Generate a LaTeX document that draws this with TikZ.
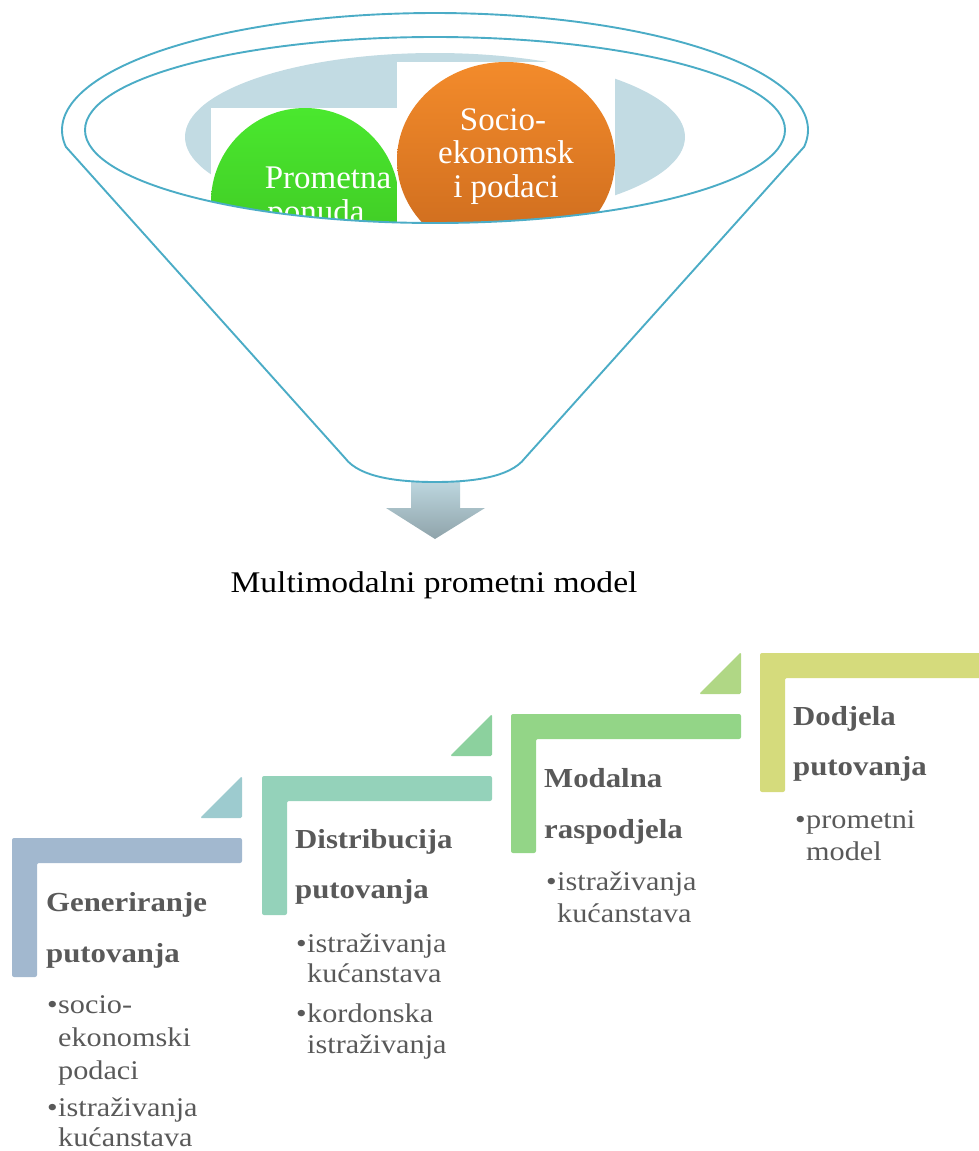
\documentclass[tikz,border=0pt]{standalone}
\usepackage{fontspec}
\setmainfont{Liberation Serif}[FakeStretch=1.12]
\newfontfamily\circfont{Liberation Serif}
\definecolor{funnelc}{HTML}{4BACC6}
\definecolor{grayell}{HTML}{C2DBE3}
\definecolor{greentop}{HTML}{4AE82E}
\definecolor{greenbot}{HTML}{3DBF22}
\definecolor{orangetop}{HTML}{F38B2B}
\definecolor{orangebot}{HTML}{CB6A1D}
\definecolor{arrtop}{HTML}{BDD7DF}
\definecolor{arrbot}{HTML}{8FA3AA}
\definecolor{txt}{HTML}{595959}
\definecolor{barA}{HTML}{A2B8CF}
\definecolor{triA}{HTML}{9DCBCF}
\definecolor{barB}{HTML}{94D2BA}
\definecolor{triB}{HTML}{8CD19E}
\definecolor{barC}{HTML}{93D587}
\definecolor{triC}{HTML}{B0D785}
\definecolor{barD}{HTML}{D5DB7C}
\tikzset{
  funnelline/.style={draw=funnelc, line width=1.9pt},
  circtxt/.style={text=white, inner sep=0pt, anchor=base, font=\circfont\fontsize{33}{33}\selectfont},
  headtxt/.style={text=txt, inner sep=0pt, anchor=base west, font=\fontsize{27.5}{27.5}\selectfont\bfseries},
  itemtxt/.style={text=txt, inner sep=0pt, anchor=base west, font=\fontsize{27}{27}\selectfont},
  lshape/.style={rounded corners=2pt},
}
\newcommand{\stepL}[2]{%
  \fill[lshape, fill=#1] (0,0) -- (230,0) -- (230,25) -- (25,25) -- (25,139) -- (0,139) -- cycle;
  \ifx\relax#2\relax\else
  \fill[rounded corners=1.5pt, fill=#2] (188,-20) -- (230,-62) -- (230,-20) -- cycle;
  \fi
}
\begin{document}
\begin{tikzpicture}[x=1pt,y=-1pt]
\useasboundingbox (0,0) rectangle (979,1151);
% arrow
\path[top color=arrtop, bottom color=arrbot] (411,481) -- (460,481) -- (460,508) -- (485,508) -- (435,539) -- (386,508) -- (411,508) -- cycle;
% contents of the funnel mouth
\begin{scope}
  \clip (435,130) ellipse [x radius=350pt, y radius=93pt];
  \fill[grayell] (435,137) ellipse [x radius=250pt, y radius=84pt];
  \fill[white] (211,108) rectangle (398,300);
  \path[top color=greentop, bottom color=greenbot] (305,202) ellipse [x radius=94pt, y radius=94pt];
  \node[circtxt] (p1) at (328,188) {Prometna};
  \node[circtxt] (p2) at (316,222) {ponuda};
  \fill[white] (397,62) rectangle (615,300);
  \path[top color=orangetop, bottom color=orangebot] (506,160) ellipse [x radius=109pt, y radius=98pt];
  \node[circtxt] (s1) at (503,130) {Socio-};
  \node[circtxt] (s2) at (506,163) {ekonomsk};
  \node[circtxt] (s3) at (506,197) {i podaci};
\end{scope}
\draw[funnelline] (435,130) ellipse [x radius=350pt, y radius=93pt];
\draw[funnelline, line join=round] plot[domain=171.7:368.3, samples=150] ({435+373*cos(\x)},{130+117*sin(\x)})
  -- (525,458) .. controls (510,478) and (470,482) .. (435,482)
  .. controls (400,482) and (360,478) .. (345,458) -- cycle;
% title
\node[text=black, inner sep=0pt, anchor=base, font=\fontsize{30}{30}\selectfont] (mm) at (434,592) {Multimodalni prometni model};
% steps
\begin{scope}[shift={(12,838)}]
  \stepL{barA}{triA}
  \node[headtxt] (a1) at (34,73) {Generiranje};
  \node[headtxt] (a2) at (34,124) {putovanja};
  \node[itemtxt] (ab1) at (35,175) {•};
  \node[itemtxt] (a3) at (46,175) {socio-};
  \node[itemtxt] (a4) at (46,208) {ekonomski};
  \node[itemtxt] (a5) at (46,241) {podaci};
  \node[itemtxt] (ab2) at (35,278) {•};
  \node[itemtxt] (a6) at (46,278) {istraživanja};
  \node[itemtxt] (a7) at (46,308) {kućanstava};
\end{scope}
\begin{scope}[shift={(262,776)}]
  \stepL{barB}{triB}
  \node[headtxt] (b1) at (33,72) {Distribucija};
  \node[headtxt] (b2) at (33,122) {putovanja};
  \node[itemtxt] (bb1) at (34,176) {•};
  \node[itemtxt] (b3) at (45,176) {istraživanja};
  \node[itemtxt] (b4) at (45,206) {kućanstava};
  \node[itemtxt] (bb2) at (34,246) {•};
  \node[itemtxt] (b5) at (45,246) {kordonska};
  \node[itemtxt] (b6) at (45,277) {istraživanja};
\end{scope}
\begin{scope}[shift={(511,714)}]
  \stepL{barC}{triC}
  \node[headtxt] (c1) at (33,73) {Modalna};
  \node[headtxt] (c2) at (33,124) {raspodjela};
  \node[itemtxt] (cb1) at (35,176) {•};
  \node[itemtxt] (c3) at (46,176) {istraživanja};
  \node[itemtxt] (c4) at (46,208) {kućanstava};
\end{scope}
\begin{scope}[shift={(760,653)}]
  \stepL{barD}{}
  \node[headtxt] (d1) at (33,72) {Dodjela};
  \node[headtxt] (d2) at (33,122) {putovanja};
  \node[itemtxt] (db1) at (35,175) {•};
  \node[itemtxt] (d3) at (46,175) {prometni};
  \node[itemtxt] (d4) at (46,207) {model};
\end{scope}
\end{tikzpicture}
\end{document}
